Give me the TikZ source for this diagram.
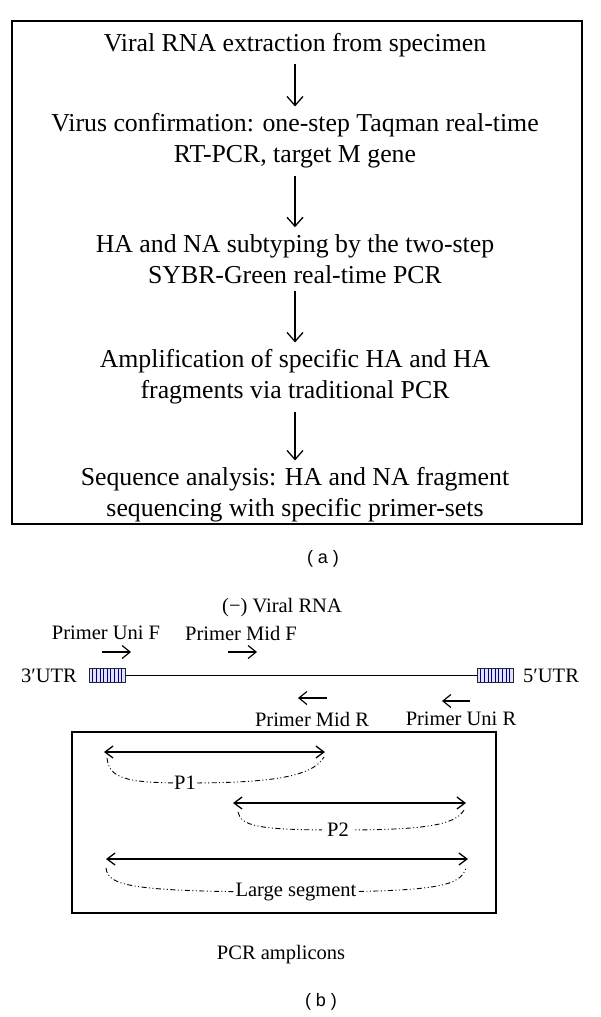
\documentclass[tikz,border=0pt]{standalone}
\usepackage{fontspec}
\setmainfont{Liberation Serif}
\newfontfamily\labelsans{Liberation Sans}
\usetikzlibrary{arrows.meta}
\begin{document}
\begin{tikzpicture}[x=1pt,y=-1pt,
  big/.style={font=\fontsize{25.8}{31}\selectfont, align=center, inner sep=7pt},
  lab/.style={font=\fontsize{20.5}{24}\selectfont, inner sep=1pt},
  partlabel/.style={font=\labelsans\fontsize{18}{22}\selectfont},
  flowarrow/.style={line width=1.3pt, -{Straight Barb[length=9pt,width=16pt]}},
  primer/.style={line width=1.2pt, -{Straight Barb[length=8pt,width=13pt]}},
  span/.style={line width=1.3pt, {Straight Barb[length=8pt,width=12pt]}-{Straight Barb[length=8pt,width=12pt]}},
  brace/.style={line width=0.9pt, dash pattern=on 5pt off 2.5pt on 1pt off 2.5pt on 1pt off 2.5pt},
  utr/.style={draw=black!85, line width=0.8pt, fill=blue!12, minimum width=36pt, minimum height=14pt, inner sep=0pt,
    path picture={\foreach \i in {1,...,9} \draw[blue!50!black, line width=0.55pt]
      ([xshift=\i*3.6pt]path picture bounding box.north west) -- ([xshift=\i*3.6pt]path picture bounding box.south west);}},
  frame/.style={draw, line width=2pt}
]
\fill[white] (0,0) rectangle (600,1017);
\useasboundingbox (0,0) rectangle (600,1017);

% ---------- (a) ----------
\draw[frame] (12,21) rectangle (582,524);
\node[big] (n1) at (295,45) {Viral RNA extraction from specimen};
\node[big] (n2) at (295,141) {Virus confirmation: one-step Taqman real-time\\RT-PCR, target M gene};
\node[big] (n3) at (295,259) {HA and NA subtyping by the two-step\\SYBR-Green real-time PCR};
\node[big] (n4) at (295,377) {Amplification of specific HA and HA\\fragments via traditional PCR};
\node[big] (n5) at (295,495) {Sequence analysis: HA and NA fragment\\sequencing with specific primer-sets};
\draw[flowarrow] (n1) -- (n2);
\draw[flowarrow] (n2) -- (n3);
\draw[flowarrow] (n3) -- (n4);
\draw[flowarrow] (n4) -- (n5);
\node[partlabel] (capa) at (323,559) {( a )};

% ---------- (b) ----------
\node[lab] (rna) at (282,608) {(−) Viral RNA};
\node[lab] (uniFl) at (106,633) {Primer Uni F};
\node[lab] (midFl) at (241,633) {Primer Mid F};
\coordinate (uf1) at (102,652); \coordinate (uf2) at (131,652);
\coordinate (mf1) at (228,652); \coordinate (mf2) at (257,652);
\draw[primer] (uf1) -- (uf2);
\draw[primer] (mf1) -- (mf2);

\node[utr] (utr3) at (107,675.5) {};
\node[utr] (utr5) at (495,675.5) {};
\draw[line width=1.2pt] (utr3) -- (utr5);
\node[lab, anchor=east] (t3) at (78,675.5) {3′UTR};
\node[lab, anchor=west] (t5) at (522,675.5) {5′UTR};

\coordinate (mr1) at (327,698); \coordinate (mr2) at (298,698);
\coordinate (ur1) at (470,701); \coordinate (ur2) at (442,701);
\draw[primer] (mr1) -- (mr2);
\draw[primer] (ur1) -- (ur2);
\node[lab] (midRl) at (312,719) {Primer Mid R};
\node[lab] (uniRl) at (461,719) {Primer Uni R};

\draw[line width=1.6pt] (72,732) rectangle (496,913);

\coordinate (p1a) at (104,752); \coordinate (p1b) at (325,752);
\coordinate (p2a) at (233,803); \coordinate (p2b) at (466,803);
\coordinate (lsa) at (106,859); \coordinate (lsb) at (468,859);
\draw[span] (p1a) -- (p1b);
\draw[span] (p2a) -- (p2b);
\draw[span] (lsa) -- (lsb);

\draw[brace] (107,758) .. controls (109,778) and (125,783) .. (185,783)
  .. controls (265,783) and (312,778) .. (324,757);
\draw[brace] (238,812) .. controls (241,826) and (258,830) .. (338,830)
  .. controls (420,830) and (455,826) .. (464,810);
\draw[brace] (106,868) .. controls (108,886) and (130,892) .. (296,892)
  .. controls (440,892) and (460,886) .. (466,868);
\node[lab, fill=white] (p1) at (185,783) {P1};
\node[lab, fill=white, inner sep=5pt] (p2) at (338,830) {P2};
\node[lab, fill=white] (ls) at (296,892) {Large segment};

\node[lab] (amp) at (281,955) {PCR amplicons};
\node[partlabel] (capb) at (321,1002) {( b )};
\end{tikzpicture}
\end{document}
